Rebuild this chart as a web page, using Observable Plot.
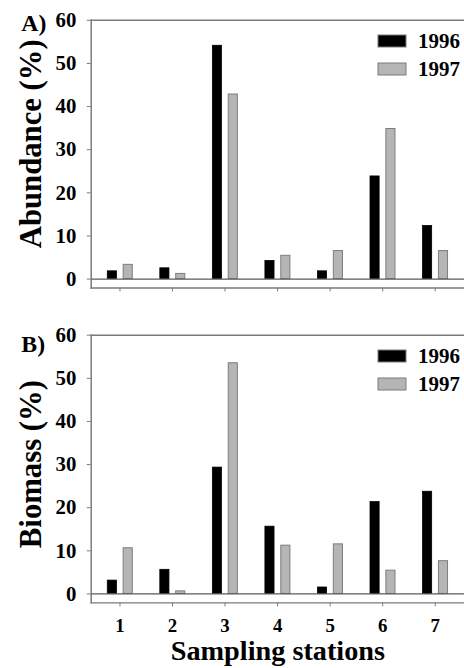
<!DOCTYPE html>
<html>
<head>
<meta charset="utf-8">
<script src="https://cdn.jsdelivr.net/npm/d3@7"></script>
<script src="https://cdn.jsdelivr.net/npm/@observablehq/plot@0.6"></script>
<style>
html, body { margin: 0; padding: 0; background: #fff; overflow: hidden; }
#wrap { position: relative; width: 464px; height: 668px; overflow: hidden; background: #fff; }
.panel { position: absolute; left: 0; }
.leg { position: absolute; left: 378px; }
.leg > div { margin: 0 !important; }
.leg * { font-family: "Liberation Serif", "Times New Roman", serif !important; font-weight: bold !important; font-size: 21px !important; color: #000 !important; }
.leg [class$="-swatch"] { height: 28px; padding: 0 !important; display: flex; align-items: center; }
.leg [class$="-swatch"] svg { margin-right: 12px !important; }
.leg svg rect { stroke: #7a7a7a; stroke-width: 1px; }
</style>
</head>
<body>
<div id="wrap"></div>
<script>
// ---- data ----
const stations = ["1", "2", "3", "4", "5", "6", "7"];
const years = ["1996", "1997"];
const abundance1996 = [1.8, 2.5, 54.1, 4.2, 1.8, 23.8, 12.3];
const abundance1997 = [3.3, 1.2, 42.8, 5.4, 6.5, 34.8, 6.5];
const biomass1996 = [3.1, 5.6, 29.3, 15.6, 1.5, 21.3, 23.7];
const biomass1997 = [10.6, 0.6, 53.5, 11.2, 11.5, 5.4, 7.6];
const yTicks = [0, 10, 20, 30, 40, 50, 60];
const xTitle = "Sampling stations";

// ---- styles ----
const FONT = "Liberation Serif, Times New Roman, serif";
const BLACK = "#000000";
const GRAY = "#b5b5b5";
const LINE = "#7a7a7a";

function makeRows(a, b) {
  return stations.flatMap((s, i) => [
    {station: s, year: years[0], value: a[i]},
    {station: s, year: years[1], value: b[i]}
  ]);
}

function panel(cfg) {
  const rows = makeRows(cfg.v1996, cfg.v1997);
  const marks = [
    Plot.barY(rows.filter(d => d.year === years[0]), {
      x: "station", y: "value", fill: "year", stroke: "#000", strokeWidth: 0.8,
      insetLeft: 14.2, insetRight: 29.6
    }),
    Plot.barY(rows.filter(d => d.year === years[1]), {
      x: "station", y: "value", fill: "year", stroke: "#7d7d7d", strokeWidth: 1,
      insetLeft: 30.2, insetRight: 13.6
    }),
    Plot.ruleY([0], {stroke: "#5a5a5a", strokeWidth: 1.3}),
    Plot.frame({anchor: "left", stroke: LINE, strokeWidth: 1.5}),
    Plot.frame({anchor: "top", stroke: LINE, strokeWidth: 1.5}),
    Plot.frame({anchor: "bottom", stroke: LINE, strokeWidth: 1.5}),
    Plot.axisY({
      ticks: yTicks, tickSize: 4, tickPadding: 11, label: null,
      stroke: LINE, fill: "#000",
      fontSize: 21, fontWeight: "bold", fontFamily: FONT
    }),
    Plot.axisX({
      tickSize: 4, tickPadding: 12, label: null,
      stroke: LINE, fill: "#000",
      tickFormat: cfg.showX ? (d => d) : (() => ""),
      fontSize: 19, fontWeight: "bold", fontFamily: FONT
    }),
    Plot.text([cfg.yTitle], {
      text: d => d, frameAnchor: "left", textAnchor: "middle", lineAnchor: "middle",
      rotate: -90, dx: -60.5, dy: cfg.titleDy,
      fontSize: 31, fontWeight: "bold", fontFamily: FONT, fill: "#000"
    }),
    Plot.text([cfg.tag], {
      text: d => d, frameAnchor: "top-left", textAnchor: "start", lineAnchor: "middle",
      dx: -70.5, dy: cfg.tagDy,
      fontSize: 24, fontWeight: "bold", fontFamily: FONT, fill: "#000"
    })
  ];
  if (cfg.showX) {
    marks.push(Plot.text([xTitle], {
      text: d => d, frameAnchor: "bottom", textAnchor: "middle", lineAnchor: "middle", dy: 48.5,
      fontSize: 28.5, fontWeight: "bold", fontFamily: FONT, fill: "#000"
    }));
  }
  const chart = Plot.plot({
    width: 468,
    height: cfg.height,
    marginTop: cfg.marginTop,
    marginBottom: cfg.marginBottom,
    marginLeft: 91.5,
    marginRight: 0,
    style: {background: "transparent", overflow: "visible"},
    x: {type: "band", domain: stations, paddingInner: 0, paddingOuter: 0, axis: null},
    y: {domain: [0, 60], insetBottom: 9, axis: null},
    color: {type: "ordinal", domain: years, range: [BLACK, GRAY]},
    marks
  });
  const holder = document.createElement("div");
  holder.className = "panel";
  holder.style.top = cfg.top + "px";
  holder.appendChild(chart);
  document.getElementById("wrap").appendChild(holder);

  const leg = Plot.legend({
    color: {type: "ordinal", domain: years, range: [BLACK, GRAY]},
    columns: 1, swatchWidth: 28, swatchHeight: 12
  });
  const lh = document.createElement("div");
  lh.className = "leg";
  lh.style.top = cfg.legTop + "px";
  lh.appendChild(leg);
  document.getElementById("wrap").appendChild(lh);
}

panel({
  v1996: abundance1996, v1997: abundance1997,
  yTitle: "Abundance (%)", tag: "A)",
  top: 0, height: 300, marginTop: 20, marginBottom: 10,
  titleDy: -10.5, tagDy: 3.3, showX: false, legTop: 27
});
panel({
  v1996: biomass1996, v1997: biomass1997,
  yTitle: "Biomass (%)", tag: "B)",
  top: 300, height: 368, marginTop: 35, marginBottom: 63,
  titleDy: -5, tagDy: 9, showX: true, legTop: 342
});
</script>
</body>
</html>
